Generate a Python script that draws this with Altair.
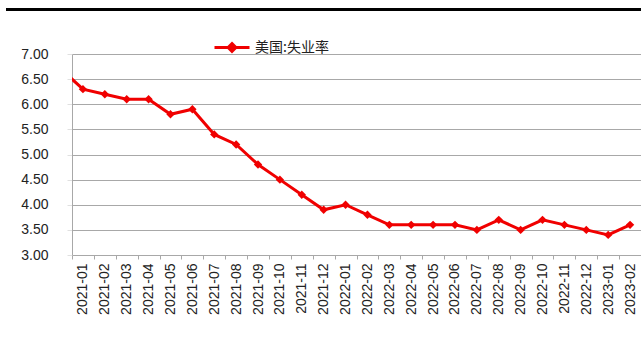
import json
import altair as alt
import pandas as pd

# ---- data ----
months = ["2020-12",
          "2021-01", "2021-02", "2021-03", "2021-04", "2021-05", "2021-06",
          "2021-07", "2021-08", "2021-09", "2021-10", "2021-11", "2021-12",
          "2022-01", "2022-02", "2022-03", "2022-04", "2022-05", "2022-06",
          "2022-07", "2022-08", "2022-09", "2022-10", "2022-11", "2022-12",
          "2023-01", "2023-02"]
rates = [6.7,
         6.3, 6.2, 6.1, 6.1, 5.8, 5.9,
         5.4, 5.2, 4.8, 4.5, 4.2, 3.9,
         4.0, 3.8, 3.6, 3.6, 3.6, 3.6,
         3.5, 3.7, 3.5, 3.7, 3.6, 3.5,
         3.4, 3.6]
series_name = "美国:失业率"
y_ticks = [3.0, 3.5, 4.0, 4.5, 5.0, 5.5, 6.0, 6.5, 7.0]

shown = months[1:]
n = len(shown)

df = pd.DataFrame({
    "idx": list(range(-1, n)),
    "month": months,
    "rate": rates,
    "series": [series_name] * len(months),
})

W, H = 569, 201
band = W / n
RED = "#f00000"
GRID = "#a8a8a8"

label_expr = json.dumps(shown) + "[datum.value]"

x = alt.X(
    "idx:Q",
    scale=alt.Scale(domain=[-0.5, n - 0.5], nice=False, zero=False),
    axis=alt.Axis(
        values=list(range(n)),
        labelExpr=label_expr,
        labelAngle=270,
        labelFont="Liberation Sans",
        labelFontSize=14,
        labelColor="#222222",
        labelPadding=4,
        tickOffset=-band / 2,
        labelOffset=band / 2,
        tickSize=4,
        tickColor=GRID,
        domainColor=GRID,
        grid=False,
        title=None,
    ),
)
y = alt.Y(
    "rate:Q",
    scale=alt.Scale(domain=[3, 7], nice=False, zero=False),
    axis=alt.Axis(
        values=y_ticks,
        format=".2f",
        labelFont="Liberation Sans",
        labelFontSize=14,
        labelColor="#222222",
        labelPadding=19,
        tickSize=5,
        tickColor="#e0e0e0",
        domainColor=GRID,
        gridColor=GRID,
        gridWidth=1,
        title=None,
    ),
)

line = alt.Chart(df).mark_line(strokeWidth=3, clip=True).encode(
    x=x, y=y,
    color=alt.Color(
        "series:N",
        scale=alt.Scale(domain=[series_name], range=[RED]),
        legend=alt.Legend(
            title=None,
            orient="none",
            legendX=141,
            legendY=-25.5,
            padding=0,
            symbolType="M-1,0L1,0M0,-0.22L0.22,0L0,0.22L-0.22,0Z",
            symbolSize=1225,
            symbolStrokeWidth=3,
            symbolFillColor=RED,
            symbolStrokeColor=RED,
            labelFont="Noto Sans CJK SC",
            labelFontSize=14,
            labelColor="#222222",
            labelOffset=4,
        ),
    ),
)

points = alt.Chart(df).mark_point(
    shape="diamond", filled=True, size=70, color=RED, opacity=1, clip=True
).encode(x=x, y=y)

top_rule = alt.Chart(df).mark_rule(color="black", strokeWidth=3).encode(
    x=alt.value(-66), x2=alt.value(W), y=alt.value(-44.5)
)

chart = alt.layer(top_rule, line, points).properties(
    width=W, height=H,
    autosize=alt.AutoSizeParams(type="none"),
    padding={"left": 72, "top": 54, "right": 0, "bottom": 83},
    background="white",
).configure_view(stroke=None)

chart.save("out.html", embed_options={"renderer": "svg", "actions": False})
